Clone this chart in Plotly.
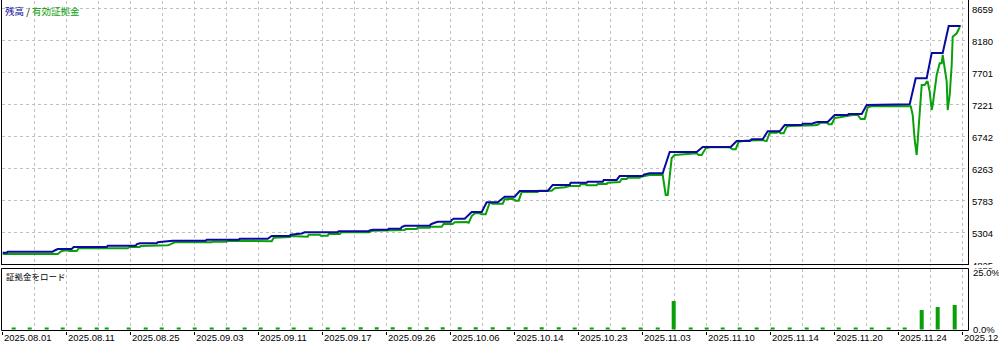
import plotly.graph_objects as go

W, H = 999, 346

# ---- data (x = deal index along the tester graph) ----
balance_x = [0, 4, 5, 50, 52, 55, 69, 71, 104, 105, 133, 134, 137, 154, 155, 167, 170, 203, 204, 236,
             237, 265, 267, 269, 287, 288, 299, 302, 335, 336, 366, 367, 370, 385, 386, 398, 399, 402,
             427, 428, 432, 435, 448, 449, 451, 462, 469, 479, 484, 495, 502, 512, 517, 545, 550, 567,
             568, 584, 585, 600, 601, 614, 617, 640, 641, 647, 660, 667, 694, 700, 728, 734, 747, 749,
             760, 765, 777, 782, 799, 800, 810, 811, 815, 825, 832, 845, 846, 859, 864, 882, 883, 907,
             913, 924, 929, 940, 946, 958]
balance_y = [4999, 4999, 5014, 5014, 5032, 5054, 5054, 5084, 5084, 5104, 5104, 5125, 5140, 5140, 5154,
             5166, 5178, 5178, 5193, 5193, 5208, 5208, 5229, 5249, 5249, 5268, 5286, 5304, 5304, 5319,
             5319, 5334, 5343, 5343, 5358, 5358, 5384, 5403, 5403, 5424, 5448, 5463, 5463, 5488, 5508,
             5508, 5608, 5608, 5754, 5754, 5837, 5837, 5923, 5923, 6013, 6013, 6047, 6047, 6062, 6062,
             6088, 6088, 6147, 6147, 6167, 6188, 6188, 6507, 6507, 6582, 6582, 6672, 6672, 6697, 6697,
             6817, 6817, 6911, 6911, 6931, 6931, 6941, 6956, 6956, 7061, 7061, 7076, 7076, 7211, 7211,
             7221, 7221, 7611, 7611, 7990, 7990, 8394, 8394]

equity_x = [0, 55, 59, 64, 67, 74, 76, 125, 127, 137, 138, 154, 155, 165, 167, 172, 209, 210, 224, 225,
            237, 264, 266, 269, 271, 287, 288, 295, 296, 305, 306, 317, 318, 325, 326, 337, 339, 365,
            366, 370, 385, 386, 402, 403, 414, 415, 427, 428, 439, 441, 442, 450, 452, 464, 466, 469,
            472, 477, 479, 483, 487, 490, 500, 502, 510, 513, 516, 519, 535, 536, 549, 552, 562, 567,
            577, 578, 583, 584, 594, 595, 604, 605, 614, 617, 619, 624, 625, 637, 638, 647, 660, 663,
            665, 669, 672, 689, 694, 696, 699, 703, 707, 727, 730, 733, 736, 742, 760, 762, 764, 767,
            774, 776, 778, 781, 784, 787, 800, 802, 812, 815, 818, 824, 826, 829, 832, 837, 850, 855,
            858, 862, 865, 870, 894, 905, 908, 910, 912, 914, 915, 917, 919, 922, 924, 925, 927, 929,
            930, 934, 937, 939, 940, 944, 945, 947, 949, 950, 954, 957]
equity_y = [4979, 4979, 5024, 5035, 5024, 5024, 5065, 5065, 5084, 5084, 5099, 5099, 5110, 5110, 5119,
            5154, 5154, 5163, 5163, 5174, 5178, 5178, 5169, 5169, 5223, 5234, 5249, 5249, 5238, 5238,
            5268, 5268, 5253, 5253, 5279, 5279, 5309, 5309, 5304, 5328, 5328, 5339, 5339, 5354, 5354,
            5373, 5373, 5388, 5388, 5433, 5429, 5429, 5454, 5459, 5448, 5548, 5589, 5589, 5574, 5574,
            5748, 5733, 5733, 5799, 5808, 5778, 5778, 5908, 5908, 5927, 5927, 5963, 5978, 5998, 5998,
            6023, 6023, 6008, 6008, 6028, 6028, 6047, 6047, 6058, 6103, 6103, 6122, 6122, 6137, 6162,
            6162, 5863, 5863, 6417, 6462, 6477, 6487, 6462, 6462, 6562, 6577, 6577, 6547, 6547, 6661,
            6676, 6687, 6676, 6672, 6796, 6796, 6811, 6787, 6787, 6886, 6896, 6896, 6907, 6907, 6916,
            6946, 6946, 6922, 6922, 7016, 7027, 7061, 7061, 7001, 7001, 7176, 7196, 7196, 7200, 7191,
            7061, 6687, 6462, 6661, 7061, 7510, 7510, 7560, 7560, 7410, 7136, 7211, 7660, 7835, 7835,
            7960, 7560, 7136, 7361, 7810, 8234, 8285, 8375]

load_x = [11, 27, 44, 60, 77, 94, 104, 126, 143, 159, 176, 192, 209, 225, 242, 258, 275, 291, 308, 325,
          341, 358, 374, 390, 407, 424, 440, 457, 473, 490, 506, 523, 539, 556, 572, 589, 605, 621, 638,
          655, 671, 688, 704, 720, 737, 754, 770, 787, 804, 820, 836, 853, 869, 886, 902, 919, 935, 952]
load_y = [0.5] * 21 + [1.0] * 13 + [0.5] * 6 + [12.5] + [0.5] * 14 + [8.5, 9.9, 10.7]

date_labels = ["2025.08.01", "2025.08.11", "2025.08.25", "2025.09.03", "2025.09.11", "2025.09.17",
               "2025.09.26", "2025.10.06", "2025.10.14", "2025.10.23", "2025.11.03", "2025.11.10",
               "2025.11.14", "2025.11.20", "2025.11.24", "2025.12.01"]
date_ticks = [0, 64, 128, 192, 256, 320, 384, 448, 512, 576, 640, 704, 768, 832, 896, 960]

price_ticks = [4825, 5304.25, 5783.5, 6262.75, 6742, 7221.25, 7700.5, 8179.75, 8659]
price_labels = ["4825", "5304", "5783", "6263", "6742", "7221", "7701", "8180", "8659"]
load_ticks = [0, 25]
load_labels = ["0.0%", "25.0%"]

BLUE = "#0a0aa0"
GREEN = "#0aa00a"
GRID = "#c0c0c0"
NUM_FONT = "Liberation Sans"
CJK_FONT = "Noto Sans CJK JP"


def px_x(p):
    return p / W


def px_y(p):
    return 1 - p / H


fig = go.Figure()
fig.add_trace(go.Scatter(x=equity_x, y=equity_y, mode="lines",
                         line=dict(color=GREEN, width=2), xaxis="x", yaxis="y"))
fig.add_trace(go.Scatter(x=balance_x, y=balance_y, mode="lines",
                         line=dict(color=BLUE, width=2), xaxis="x", yaxis="y"))
fig.add_trace(go.Bar(x=load_x, y=load_y, width=4, marker=dict(color=GREEN, line=dict(width=0)),
                     xaxis="x2", yaxis="y2"))

xr = [-0.7, 965.3]
grid_common = dict(showgrid=True, gridcolor=GRID, griddash="3px,3px", gridwidth=1,
                   zeroline=False, showline=False, automargin=False)

fig.update_layout(
    width=W, height=H, margin=dict(l=0, r=0, t=0, b=0, pad=0),
    paper_bgcolor="white", plot_bgcolor="white", showlegend=False,
    xaxis=dict(domain=[px_x(2), px_x(968)], range=xr, anchor="y", tickmode="linear",
               tick0=0, dtick=32, ticks="", showticklabels=False, **grid_common),
    xaxis2=dict(domain=[px_x(2), px_x(968)], range=xr, anchor="y2", tickmode="linear",
                tick0=0, dtick=64, ticks="outside", ticklen=3, tickwidth=1, tickcolor="black",
                showticklabels=False,
                minor=dict(tick0=0, dtick=32, showgrid=True, gridcolor=GRID, griddash="3px,3px",
                           ticks=""),
                **grid_common),
    yaxis=dict(domain=[px_y(265.5), px_y(1)], range=[4807.0, 8768.5], anchor="x", side="right",
               tickmode="array", tickvals=price_ticks, ticktext=price_labels, ticks="",
               showticklabels=True, ticklabelshift=1, ticklabelstandoff=3,
               tickfont=dict(family=NUM_FONT, size=9.5, color="black"), **grid_common),
    yaxis2=dict(domain=[px_y(330.5), px_y(268.5)], range=[-0.44, 26.75], anchor="x2",
                showgrid=False, zeroline=False, showline=False, showticklabels=False, ticks="",
                automargin=False),
)

shapes = []
def hline(y, x0, x1, w=1):
    shapes.append(dict(type="line", xref="paper", yref="paper", x0=px_x(x0), x1=px_x(x1),
                       y0=px_y(y), y1=px_y(y), line=dict(color="black", width=w)))
def vline(x, y0, y1):
    shapes.append(dict(type="line", xref="paper", yref="paper", x0=px_x(x), x1=px_x(x),
                       y0=px_y(y0), y1=px_y(y1), line=dict(color="black", width=1)))

# mask that clips the lowest price label at the pane border, as in the reference
shapes.append(dict(type="rect", xref="paper", yref="paper", x0=px_x(969), x1=1,
                   y0=px_y(268.3), y1=px_y(265), fillcolor="white", line=dict(width=0),
                   layer="above"))
vline(1.5, 0, 265)
vline(968.5, 0, 265)
hline(264.5, 1.5, 968.5)
vline(1.5, 268.5, 330.5)
vline(968.5, 268.5, 330.5)
hline(268.5, 1.5, 968.5)
hline(330.5, 1.5, 968.5)
fig.update_layout(shapes=shapes)

ann = []
for v, lab in zip(load_ticks, load_labels):
    ann.append(dict(x=px_x(971), xref="paper", y=v, yref="y2", text=lab, showarrow=False,
                    xanchor="left", yanchor="middle",
                    font=dict(family=NUM_FONT, size=9.5, color="black")))
for t, lab in zip(date_ticks, date_labels):
    ann.append(dict(x=t, xref="x2", y=px_y(337.5), yref="paper", text=lab, showarrow=False,
                    xanchor="left", yanchor="middle", xshift=-0.5,
                    font=dict(family=NUM_FONT, size=9.5, color="black")))
ann.append(dict(x=px_x(3), xref="paper", y=px_y(11), yref="paper", showarrow=False,
                xanchor="left", yanchor="middle",
                text=f"<span style='color:{BLUE}'>残高</span> / <span style='color:{GREEN}'>有効証拠金</span>",
                font=dict(family=CJK_FONT, size=9.5, color="black")))
ann.append(dict(x=px_x(4), xref="paper", y=px_y(275.7), yref="paper", showarrow=False,
                xanchor="left", yanchor="middle", text="証拠金をロード",
                font=dict(family=CJK_FONT, size=8.5, color="black")))
fig.update_layout(annotations=ann)

fig.write_html("out.html", config={"displayModeBar": False})
